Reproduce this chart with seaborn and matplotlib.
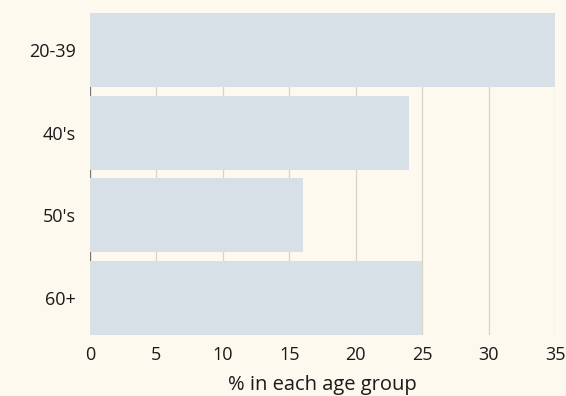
import numpy as np
import pandas as pd
import matplotlib
matplotlib.use('Agg')
import matplotlib.pyplot as plt
import seaborn as sns

age_groups = ["20-39", "40's", "50's", "60+"]
pct_values = [35, 24, 16, 25]
x_ticks = [0, 5, 10, 15, 20, 25, 30, 35]

BG = "#fef9ef"
BAR = "#d6e0e6"
TXT = "#1a1a1a"

sns.set_theme(style="white")
plt.rcParams["font.family"] = ["Open Sans", "DejaVu Sans"]

df = pd.DataFrame({"group": age_groups, "pct": pct_values})

fig = plt.figure(figsize=(5.66, 3.96), dpi=100, facecolor=BG)
ax = fig.add_axes([90 / 566, 1 - 335 / 396, (555 - 90) / 566, (335 - 13) / 396])
ax.set_facecolor(BG)

sns.barplot(data=df, x="pct", y="group", orient="h", color=BAR,
            saturation=1, width=0.895, linewidth=0, ax=ax, zorder=3)

ax.set_xlim(0, 35)
ax.set_ylim(3.4475, -0.4475)
ax.set_xticks(x_ticks)
ax.xaxis.grid(True, color="#d8d3c8", linewidth=0.9, zorder=0)
ax.axvline(0, color="#777777", linewidth=0.9, zorder=1)
ax.set_axisbelow(True)
for s in ax.spines.values():
    s.set_visible(False)

ax.tick_params(axis="both", length=0, labelsize=13, colors=TXT)
ax.tick_params(axis="x", pad=8)
ax.tick_params(axis="y", pad=10)
ax.set_ylabel("")
ax.set_xlabel("% in each age group", fontsize=14.5, color=TXT, labelpad=8)

fig.savefig("out.png", dpi=100, facecolor=BG)
